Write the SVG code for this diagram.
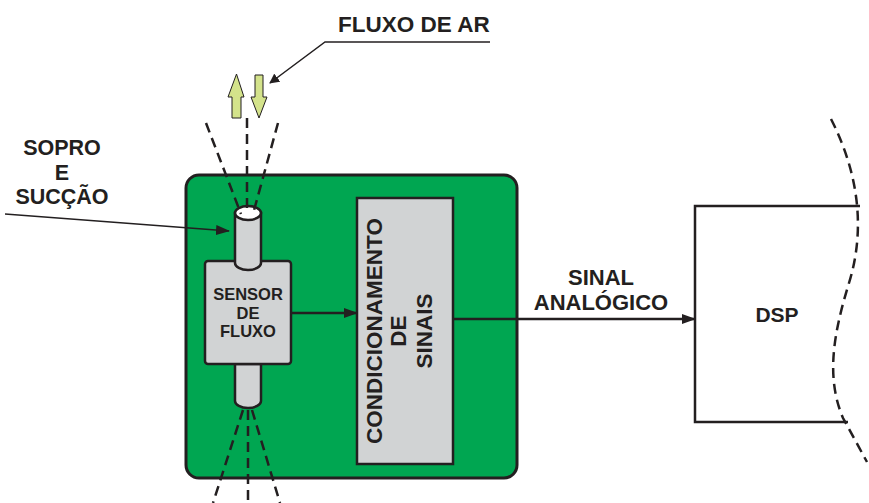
<svg xmlns="http://www.w3.org/2000/svg" width="869" height="503" viewBox="0 0 869 503">
<defs>
<style>
.lbl{font-family:"Liberation Sans",Arial,sans-serif;font-weight:bold;fill:#231f20;}
.dash{fill:none;stroke:#231f20;stroke-width:2.5;stroke-dasharray:10 6;}
.box{fill:#d1d3d4;stroke:#231f20;stroke-width:2.5;}
.ln{fill:none;stroke:#231f20;}
.flow{fill:#d4e38b;stroke:#231f20;stroke-width:1;}
</style>
<marker id="ah" markerWidth="10" markerHeight="10" refX="9" refY="5" orient="auto" markerUnits="userSpaceOnUse" viewBox="0 0 10 10">
<path d="M0,0 L10,5 L0,10 Z" fill="#231f20"/>
</marker>
<marker id="ahs" markerWidth="14" markerHeight="10" refX="13" refY="5" orient="auto" markerUnits="userSpaceOnUse" viewBox="0 0 14 10">
<path d="M0,0 L14,5 L0,10 Z" fill="#231f20"/>
</marker>
</defs>
<rect width="869" height="503" fill="#ffffff"/>

<g id="board">
<rect x="186" y="175" width="331" height="303" rx="13" ry="13" fill="#00a651" stroke="#231f20" stroke-width="3"/>
</g>

<g id="sensor">
<path d="M235,364 V401 A13,7 0 0 0 261,401 V364 Z" class="box"/>
<rect x="205" y="261" width="86" height="103" rx="3" ry="3" class="box"/>
<path d="M235,213 V263 A13,7 0 0 0 261,263 V213 Z" class="box"/>
<ellipse cx="248" cy="213" rx="13" ry="7" fill="#ffffff" stroke="#231f20" stroke-width="2.5"/>
<text class="lbl" font-size="16.5" text-anchor="middle" x="248" y="300">SENSOR</text>
<text class="lbl" font-size="16.5" text-anchor="middle" x="248" y="318.5">DE</text>
<text class="lbl" font-size="16.5" text-anchor="middle" x="248" y="337">FLUXO</text>
</g>

<g id="cone">
<path class="dash" d="M206,123 L241,214"/>
<path class="dash" d="M247,118 L247,214"/>
<path class="dash" d="M278,123 L253,214"/>
<path class="dash" d="M243,410 L213,503"/>
<path class="dash" d="M248,410 L248,503"/>
<path class="dash" d="M252,410 L280,503"/>
</g>

<g id="airflow">
<path class="flow" d="M232,118 V97 H228 L236.5,74 L244,97 H241 V118 Z"/>
<path class="flow" d="M255,75 V97 H251 L259,118 L267,97 H263 V75 Z"/>
</g>

<g id="conditioning">
<rect x="357" y="198" width="96" height="266" class="box"/>
<g transform="translate(382,331) rotate(-90)">
<text class="lbl" font-size="22.5" text-anchor="middle" x="0" y="0">CONDICIONAMENTO</text>
<text class="lbl" font-size="22.5" text-anchor="middle" x="0" y="24">DE</text>
<text class="lbl" font-size="22.5" text-anchor="middle" x="0" y="50">SINAIS</text>
</g>
</g>

<g id="dsp">
<path d="M860,206 H695 V422 H848" class="ln" stroke-width="2.5"/>
<path class="dash" d="M831,119 C858,172 866,228 849,283 C833,335 826,378 843,418 L867,462"/>
<text class="lbl" font-size="21" text-anchor="middle" x="777" y="322">DSP</text>
</g>

<g id="labels">
<text class="lbl" font-size="22.5" x="338" y="32">FLUXO DE AR</text>
<text class="lbl" font-size="21.5" text-anchor="middle" x="62" y="155">SOPRO</text>
<text class="lbl" font-size="21.5" text-anchor="middle" x="62" y="180">E</text>
<text class="lbl" font-size="21.5" text-anchor="middle" x="62" y="204">SUCÇÃO</text>
<text class="lbl" font-size="22" text-anchor="middle" x="601" y="285">SINAL</text>
<text class="lbl" font-size="22" text-anchor="middle" x="601" y="310">ANALÓGICO</text>
</g>

<g id="connectors">
<path class="ln" stroke-width="1.5" d="M490,42 H325 L270,83" marker-end="url(#ah)"/>
<path class="ln" stroke-width="1.5" d="M5,214 L229,231" marker-end="url(#ahs)"/>
<path class="ln" stroke-width="2.5" d="M291,313 H357" marker-end="url(#ahs)"/>
<path class="ln" stroke-width="2.5" d="M453,319 H695" marker-end="url(#ahs)"/>
</g>
</svg>
